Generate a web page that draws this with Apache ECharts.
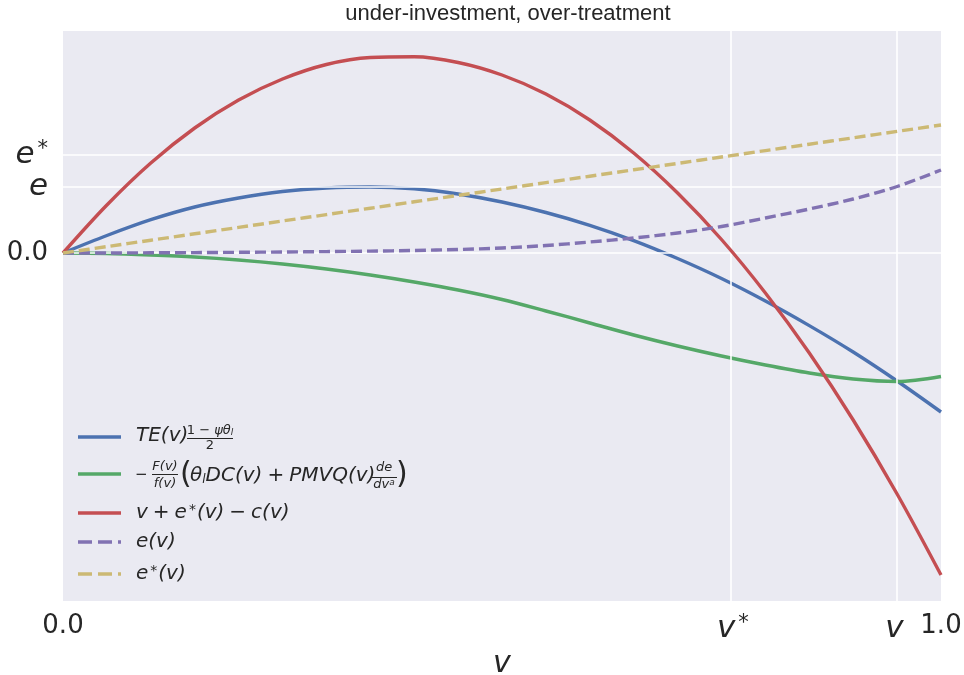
<!DOCTYPE html>
<html><head><meta charset="utf-8">
<script src="https://cdn.jsdelivr.net/npm/echarts@6/dist/echarts.min.js"></script>
<style>html,body{margin:0;padding:0;background:#fff}#c{width:964px;height:675px}</style>
</head><body><div id="c"></div>
<script>
// ---- data ----
const xValues       = [0,0.05,0.1,0.15,0.2,0.25,0.3,0.35,0.4,0.45,0.5,0.55,0.6,0.65,0.7,0.75,0.8,0.85,0.9,0.95,1.0];
const teValues      = [0,0.175,0.333,0.46,0.55,0.615,0.65,0.66,0.642,0.59,0.51,0.405,0.277,0.124,-0.055,-0.255,-0.48,-0.726,-0.99,-1.28,-1.59];
const rentValues    = [0,-0.005,-0.02,-0.04,-0.07,-0.11,-0.16,-0.22,-0.29,-0.37,-0.465,-0.58,-0.70,-0.82,-0.93,-1.03,-1.12,-1.20,-1.26,-1.285,-1.235];
const surplusValues = [0,0.48,0.90,1.25,1.53,1.74,1.885,1.955,1.962,1.905,1.78,1.59,1.33,1.0,0.60,0.135,-0.40,-1.0,-1.67,-2.41,-3.22];
const eValues       = [0,0,0.002,0.004,0.007,0.01,0.014,0.019,0.025,0.035,0.05,0.075,0.11,0.15,0.20,0.265,0.35,0.44,0.54,0.665,0.83];
const eStarValues   = [0,0.064,0.128,0.192,0.256,0.32,0.384,0.448,0.512,0.576,0.64,0.704,0.768,0.832,0.896,0.96,1.024,1.088,1.152,1.216,1.28];
const xTickValues = [0, 0.763, 0.947, 1.0];
const xTickLabels = ['{n|0.0}', '{i|v}{s|*}', '{i|v}', '{n|1.0}'];
const yTickValues = [0, 0.66, 0.98];
const yTickLabels = ['{n|0.0}', '{i|e}', '{i|e}{s|*}'];
const seriesNames = ['TE', 'rent', 'surplus', 'e(v)', 'e*(v)'];
const titleText = 'under-investment, over-treatment';

const colors = ['#4C72B0', '#55A868', '#C44E52', '#8172B2', '#CCB974'];
const ink = '#262626';
const FF = 'DejaVu Sans';

function pairs(ys) { return xValues.map((x, i) => [x, ys[i]]); }
const allY = [teValues, rentValues, surplusValues, eValues, eStarValues];

const labelRich = {
  n: { fontSize: 26, fontFamily: FF, color: ink },
  i: { fontSize: 31, fontFamily: FF, fontStyle: 'italic', color: ink },
  s: { fontSize: 21, fontFamily: FF, color: ink, verticalAlign: 'top', lineHeight: 14, padding: [0, 0, 0, 3] }
};

// legend drawn as graphic elements (math text)
function txt(x, y, text, st, extra) {
  return Object.assign({
    type: 'text', x: x, y: y, silent: true, z: 100,
    style: Object.assign({ text: text, fill: ink, fontFamily: FF, fontSize: 20,
      align: 'left', verticalAlign: 'middle', textAlign: 'left', textVerticalAlign: 'middle' }, st)
  }, extra || {});
}
function seg(x1, y1, x2, y2, color, w, dash) {
  return { type: 'line', silent: true, z: 100, shape: { x1, y1, x2, y2 },
    style: { stroke: color, lineWidth: w, lineDash: dash || null } };
}
const R = {
  i: { fontFamily: FF, fontStyle: 'italic', fontSize: 20, fill: ink },
  n: { fontFamily: FF, fontSize: 20, fill: ink },
  s: { fontFamily: FF, fontSize: 14, fill: ink, verticalAlign: 'top', lineHeight: 13, padding: [0, 1, 0, 2] },
  si: { fontFamily: FF, fontStyle: 'italic', fontSize: 12, fill: ink, verticalAlign: 'bottom', lineHeight: 12 },
  fi: { fontFamily: FF, fontStyle: 'italic', fontSize: 13, fill: ink },
  fn: { fontFamily: FF, fontSize: 13, fill: ink },
  fsub: { fontFamily: FF, fontStyle: 'italic', fontSize: 9, fill: ink, verticalAlign: 'bottom', lineHeight: 9 },
  fsup: { fontFamily: FF, fontStyle: 'italic', fontSize: 9, fill: ink, verticalAlign: 'top', lineHeight: 9 }
};
const rowY = [437, 474, 513, 542, 574];
const legendEls = [];
legendEls.push(seg(78, rowY[0], 121, rowY[0], colors[0], 3.4));
legendEls.push(seg(78, rowY[1], 121, rowY[1], colors[1], 3.4));
legendEls.push(seg(78, rowY[2], 121, rowY[2], colors[2], 3.4));
legendEls.push(seg(78, rowY[3], 121, rowY[3], colors[3], 3.4, [14, 6]));
legendEls.push(seg(78, rowY[4], 121, rowY[4], colors[4], 3.4, [14, 6]));
// row 1
legendEls.push(txt(136, 436, '{i|TE(v)}', { rich: R }));
legendEls.push(txt(210, 431, '{fn|1 − }{fi|ψθ}{fsub|l}', { rich: R, align: 'center', textAlign: 'center' }));
legendEls.push(seg(187, 438.5, 233, 438.5, ink, 1));
legendEls.push(txt(210, 446, '{fn|2}', { rich: R, align: 'center', textAlign: 'center' }));
// row 2
legendEls.push(txt(135, 475, '−', { fontSize: 15 }));
legendEls.push(txt(165, 467, '{fi|F(v)}', { rich: R, align: 'center', textAlign: 'center' }));
legendEls.push(seg(152, 474.5, 178, 474.5, ink, 1));
legendEls.push(txt(165, 484, '{fi|f(v)}', { rich: R, align: 'center', textAlign: 'center' }));
legendEls.push(txt(180, 475, '(', { fontSize: 30 }));
legendEls.push(txt(190, 476, '{i|θ}{si|l}{i|DC(v)}{n|\u2005+\u2005}{i|PMVQ(v)}', { rich: R }));
legendEls.push(txt(384, 468, '{fi|de}', { rich: R, align: 'center', textAlign: 'center' }));
legendEls.push(seg(372, 477.5, 397, 477.5, ink, 1));
legendEls.push(txt(384, 485, '{fi|dv}{fsup|a}', { rich: R, align: 'center', textAlign: 'center' }));
legendEls.push(txt(396, 475, ')', { fontSize: 30 }));
// rows 3-5
legendEls.push(txt(136, 513, '{i|v}{n|\u2005+\u2005}{i|e}{s|*}{i|(v)}{n|\u2005−\u2005}{i|c(v)}', { rich: R }));
legendEls.push(txt(136, 542, '{i|e(v)}', { rich: R }));
legendEls.push(txt(136, 574, '{i|e}{s|*}{i|(v)}', { rich: R }));

const chart = echarts.init(document.getElementById('c'), null, { renderer: 'canvas' });
const series = seriesNames.map((name, k) => ({
  name: name, type: 'line', data: pairs(allY[k]), showSymbol: false, symbol: 'none',
  smooth: 0.33, z: 3 + k,
  lineStyle: { color: colors[k], width: 3.4, type: k >= 3 ? [11, 5] : 'solid', cap: 'butt', join: 'round' },
  itemStyle: { color: colors[k] }
}));
series.push({
  name: 'grid', type: 'line', data: [[0, 0]], symbol: 'none', z: 1, silent: true,
  lineStyle: { opacity: 0 },
  markLine: {
    silent: true, symbol: 'none', label: { show: false }, animation: false,
    lineStyle: { color: '#ffffff', width: 1.6, type: 'solid' },
    emphasis: { disabled: true },
    data: yTickValues.map(v => ({ yAxis: v })).concat(xTickValues.slice(1, 3).map(v => ({ xAxis: v })))
  }
});

chart.setOption({
  animation: false,
  backgroundColor: '#ffffff',
  title: {
    text: titleText, left: 503, top: -2, textAlign: 'center',
    textStyle: { fontFamily: 'Liberation Sans', fontSize: 22, fontWeight: 'normal', color: ink }
  },
  grid: { left: 63, right: 23, top: 31, bottom: 74, show: true, backgroundColor: '#EAEAF2', borderWidth: 0,
          containLabel: false, outerBoundsMode: 'none' },
  xAxis: {
    type: 'value', min: 0, max: 1,
    axisLine: { show: false }, axisTick: { show: false }, splitLine: { show: false },
    axisLabel: {
      customValues: xTickValues, margin: 12, color: ink,
      formatter: (v, i) => xTickLabels[xTickValues.indexOf(v)] || xTickLabels[i],
      rich: labelRich
    },
    name: 'v', nameLocation: 'middle', nameGap: 38,
    nameTextStyle: { fontFamily: FF, fontStyle: 'italic', fontSize: 30, color: ink }
  },
  yAxis: {
    type: 'value', min: -3.48, max: 2.22,
    axisLine: { show: false }, axisTick: { show: false }, splitLine: { show: false },
    axisLabel: {
      customValues: yTickValues, margin: 15, color: ink,
      formatter: (v, i) => yTickLabels[yTickValues.indexOf(v)] || yTickLabels[i],
      rich: labelRich
    }
  },
  graphic: { elements: legendEls },
  series: series
});
</script></body></html>
